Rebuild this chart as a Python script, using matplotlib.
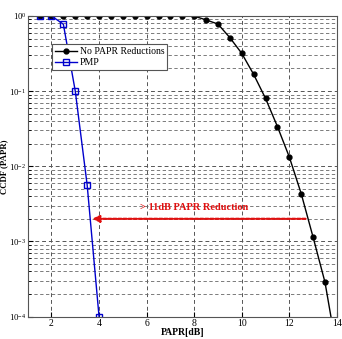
import matplotlib
matplotlib.use('Agg')
import matplotlib.pyplot as plt
import numpy as np

plt.rcParams['font.family'] = ['Liberation Serif', 'DejaVu Serif']
plt.rcParams['mathtext.fontset'] = 'stix'

# CCDF without any PAPR reduction
papr_orig = [1.0, 1.5, 2.0, 2.5, 3.0, 3.5, 4.0, 4.5, 5.0, 5.5, 6.0, 6.5, 7.0, 7.5,
             8.0, 8.5, 9.0, 9.5, 10.0, 10.5, 11.0, 11.5, 12.0, 12.5, 13.0, 13.5, 14.0]
ccdf_orig = [1.0, 1.0, 1.0, 1.0, 1.0, 1.0, 1.0, 1.0, 1.0, 1.0, 1.0, 1.0, 1.0, 1.0,
             0.995, 0.885, 0.78, 0.514, 0.318, 0.167, 0.080, 0.0338, 0.0133,
             0.00433, 0.00114, 2.87e-4, 3.5e-5]

# CCDF with PMP
papr_pmp = [1.5, 2.0, 2.5, 3.0, 3.5, 4.0]
ccdf_pmp = [1.0, 1.0, 0.775, 0.1, 0.00564, 1e-4]

xticks = [2, 4, 6, 8, 10, 12, 14]

fig = plt.figure(figsize=(3.42, 3.39), dpi=100)
ax = fig.add_axes([0.081, 0.066, 0.904, 0.887])

ax.semilogy(papr_orig, ccdf_orig, '-o', color='black', lw=1.0, ms=3.5,
            markevery=slice(1, None), label='No PAPR Reductions')
ax.semilogy(papr_pmp, ccdf_pmp, '-s', color='#0000cc', lw=1.0, ms=4.5,
            mfc='none', mew=1.0, label='PMP')

ax.set_xlim(1, 14)
ax.set_ylim(1e-4, 1)
ax.set_xticks(xticks)
ax.grid(True, which='major', ls=(0, (4, 3)), color='#555555', lw=0.7)
ax.grid(True, which='minor', axis='y', ls=(0, (4, 3)), color='#666666', lw=0.6)
ax.tick_params(which='both', direction='in', labelsize=7, top=False, right=False, pad=2)
ax.tick_params(axis='y', labelsize=6.3, pad=1)
for s in ax.spines.values():
    s.set_color('#555555')

ax.set_xlabel('PAPR[dB]', fontsize=7, fontweight='bold', labelpad=0)
ax.set_ylabel('CCDF (PAPR)', fontsize=6.3, fontweight='bold')
ax.yaxis.set_label_coords(-0.062, 0.5)

# reduction annotation
ax.annotate('', xy=(3.6, 2e-3), xytext=(12.8, 2e-3),
            arrowprops=dict(arrowstyle='-|>', color='#e01010', lw=1.6,
                            ls=(0, (1.5, 0.8)), mutation_scale=10))
ax.text(8.0, 2.45e-3, '> 11dB PAPR Reduction', color='#e01010', fontsize=7.5,
        fontweight='bold', ha='center', va='bottom')

leg = ax.legend(loc='upper left', bbox_to_anchor=(0.08, 0.905), fontsize=7,
                fancybox=False, edgecolor='#555555', framealpha=1,
                borderpad=0.3, handlelength=2.2, labelspacing=0.2,
                handletextpad=0.3, borderaxespad=0)
leg.get_frame().set_linewidth(0.8)

fig.savefig('out.png', dpi=100)
